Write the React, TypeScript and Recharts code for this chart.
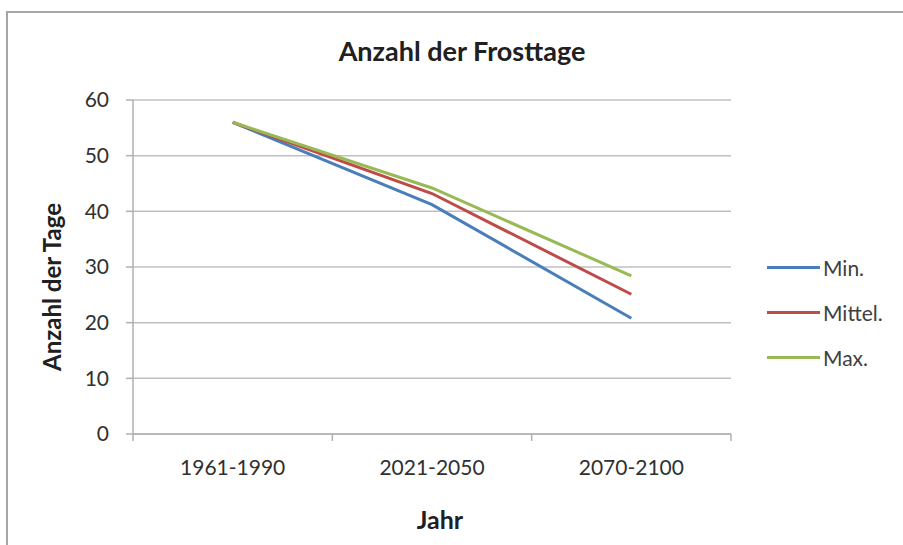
import React from "react";
import { LineChart, Line, XAxis, YAxis, CartesianGrid } from "recharts";

const periods = ["1961-1990", "2021-2050", "2070-2100"];
const minValues = [56, 41.2, 20.8];
const midValues = [56, 43.2, 25.1];
const maxValues = [56, 44.2, 28.4];
const yTicks = [0, 10, 20, 30, 40, 50, 60];

const SERIES = [
  { key: "min", name: "Min.", color: "#4a7ebb" },
  { key: "mid", name: "Mittel.", color: "#be4b48" },
  { key: "max", name: "Max.", color: "#98b954" },
];

// x = category slot centre (0.5, 1.5, 2.5) so the tick marks can sit on the slot borders like Excel
const data = periods.map((p, i) => ({
  period: p,
  x: i + 0.5,
  min: minValues[i],
  mid: midValues[i],
  max: maxValues[i],
}));

const FONT = "Lato, 'Open Sans', sans-serif";

const LegendBox = () => (
  <div style={{ position: "absolute", left: 767, top: 245, fontFamily: FONT }}>
    {SERIES.map((s) => (
      <div key={s.key} style={{ display: "flex", alignItems: "center", height: 45 }}>
        <div style={{ width: 53, height: 3, background: s.color, marginRight: 3 }} />
        <span style={{ fontSize: 21, color: "#404040" }}>{s.name}</span>
      </div>
    ))}
  </div>
);

export default function App() {
  return (
    <div style={{ position: "absolute", left: 0, top: 0, width: 903, height: 545, background: "#fff" }}>
      <LineChart width={903} height={545} data={data} margin={{ top: 100, right: 172, bottom: 0, left: 0 }}>
        <CartesianGrid vertical={false} stroke="#c0c0c0" strokeWidth={1.5} />
        <XAxis
          dataKey="x"
          type="number"
          domain={[0, 3]}
          ticks={[0, 1, 2, 3]}
          interval={0}
          tickFormatter={() => ""}
          height={8}
          stroke="#b0b0b0"
          strokeWidth={1.5}
          tickSize={7}
        />
        <XAxis
          xAxisId="labels"
          dataKey="x"
          type="number"
          domain={[0, 3]}
          ticks={[0.5, 1.5, 2.5]}
          interval={0}
          tickFormatter={(v: number) => periods[Math.floor(v)]}
          height={103}
          axisLine={false}
          tickLine={false}
          tickMargin={12}
          tick={{ fontSize: 21, fill: "#303030", fontFamily: FONT }}
        />
        <YAxis
          domain={[0, 60]}
          ticks={yTicks}
          width={133}
          stroke="#b0b0b0"
          strokeWidth={1.5}
          tickSize={7}
          tickMargin={17}
          tick={{ fontSize: 21, fill: "#303030", fontFamily: FONT }}
        />
        {SERIES.map((s) => (
          <Line
            key={s.key}
            dataKey={s.key}
            name={s.name}
            type="linear"
            stroke={s.color}
            strokeWidth={3}
            dot={false}
            activeDot={false}
            isAnimationActive={false}
          />
        ))}
      </LineChart>
      <LegendBox />
      <svg width={903} height={545} style={{ position: "absolute", left: 0, top: 0, pointerEvents: "none" }}>
        <polyline points="7,545 7,12 903,12" fill="none" stroke="#a6a6a6" strokeWidth={2} />
        <text x={462} y={61} textAnchor="middle" fontFamily={FONT} fontWeight="bold" fontSize={27} fill="#202020">
          Anzahl der Frosttage
        </text>
        <text x={440} y={529} textAnchor="middle" fontFamily={FONT} fontWeight="bold" fontSize={25} fill="#202020">
          Jahr
        </text>
        <text
          x={0}
          y={0}
          transform="translate(61,287) rotate(-90)"
          textAnchor="middle"
          fontFamily={FONT}
          fontWeight="bold"
          fontSize={24}
          fill="#202020"
        >
          Anzahl der Tage
        </text>
      </svg>
    </div>
  );
}
